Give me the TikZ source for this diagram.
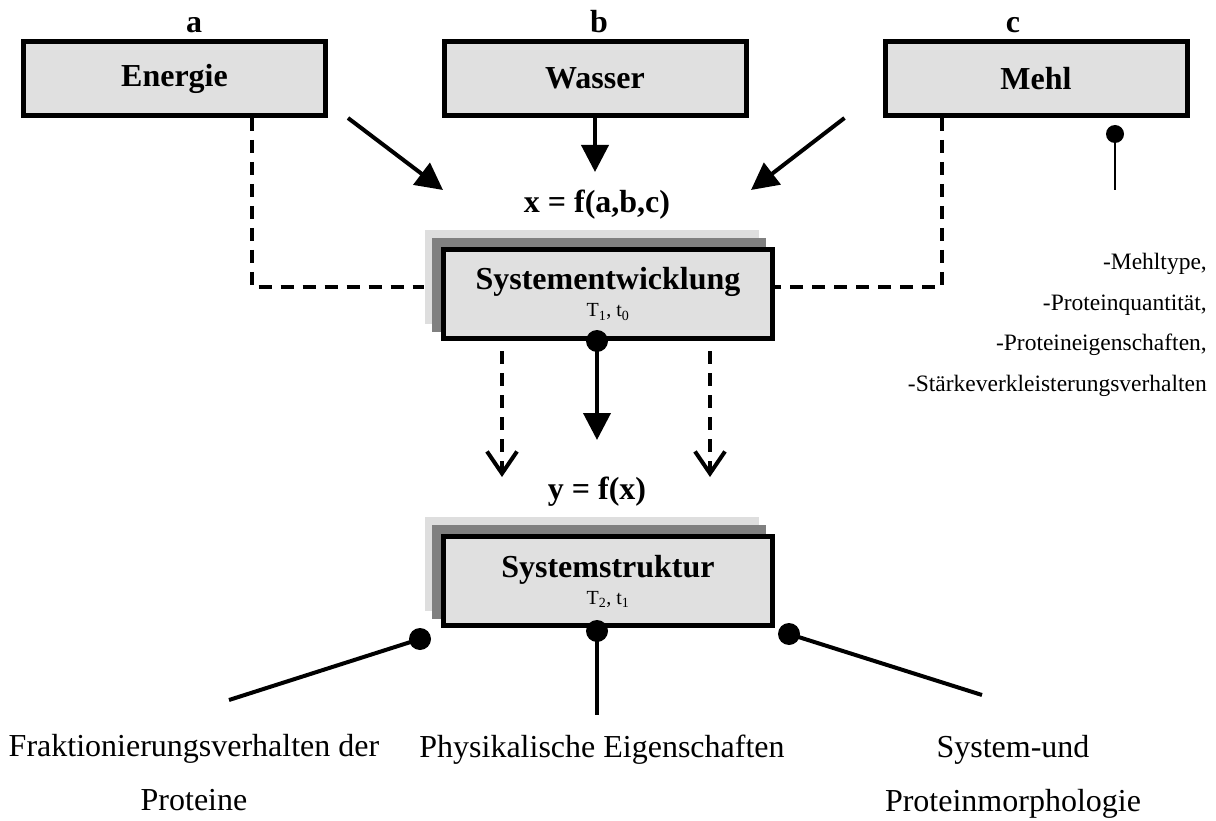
\documentclass[tikz,border=0pt]{standalone}
\usepackage{fontspec}
\setmainfont{Liberation Serif}
\usetikzlibrary{arrows.meta,shadows}

\begin{document}
\begin{tikzpicture}[
  x=1pt, y=-1pt,
  box/.style={draw, line width=5pt, fill=black!12, inner sep=0pt, minimum width=302pt, minimum height=74pt, font=\fontsize{32}{36}\selectfont\bfseries},
  sysbox/.style={box, minimum width=329pt, minimum height=89pt, align=center,
    general shadow={fill=black!13, draw=black!13, shadow xshift=-16pt, shadow yshift=17pt},
    general shadow={fill=black!50, draw=black!50, shadow xshift=-9pt, shadow yshift=9pt}},
  lbl/.style={inner sep=0pt, font=\fontsize{32}{36}\selectfont\bfseries},
  txt/.style={inner sep=0pt, align=center, font=\fontsize{32}{54}\selectfont},
  dot/.style={circle, fill, inner sep=0pt, minimum size=22pt},
  arr/.style={-{Triangle[length=27pt,width=27pt]}, line width=4pt},
  dashln/.style={line width=4pt, dash pattern=on 13pt off 9pt},
  dasharr/.style={dashln, -{Straight Barb[length=22pt,width=30pt]}},
  stem/.style={line width=4pt}
]
\useasboundingbox (0,0) rectangle (1216,821);

% inputs
\node[box] (energie) at (174.5,78.5) {Energie};
\node[box] (wasser) at (595,78.5) {Wasser};
\node[box] (mehl) at (1036,78.5) {Mehl};
\node[lbl, anchor=base] (la) at (194,33) {a};
\node[lbl, anchor=base] (lb) at (599,33) {b};
\node[lbl, anchor=base] (lc) at (1013,33) {c};

% system boxes
\node[lbl] (xf) at (597,205) {x = f(a,b,c)};
\node[sysbox] (entw) at (608,294) {Systementwicklung\\[-9pt]{\fontsize{20}{22}\selectfont\mdseries T\textsubscript{1}, t\textsubscript{0}}};
\node[lbl] (yf) at (597,492) {y = f(x)};
\node[sysbox] (struk) at (608,581) {Systemstruktur\\[-9pt]{\fontsize{20}{22}\selectfont\mdseries T\textsubscript{2}, t\textsubscript{1}}};

% flour properties
\node[dot, minimum size=18pt] (dotM) at (1115,134) {};
\node[inner sep=0pt, align=right, anchor=east, font=\fontsize{23.5}{40.5}\selectfont] (props) at (1207,325)
  {-Mehltype,\\-Proteinquantität,\\-Proteineigenschaften,\\-Stärkeverkleisterungsverhalten};

% results
\node[dot] (dotE) at (597,341) {};
\node[dot] (dotL) at (420,639) {};
\node[dot] (dotC) at (597,631) {};
\node[dot] (dotR) at (789,634) {};
\node[txt] (frak) at (194,773) {Fraktionierungsverhalten der\\Proteine};
\node[txt] (phys) at (602,750) {Physikalische Eigenschaften};
\node[txt] (morph) at (1013,777) {System-und\\Proteinmorphologie};

\coordinate (tipA) at (443,190);
\coordinate (tipC) at (751,190);
\coordinate (tipY) at (597,440);
\coordinate (endL) at (229,700);
\coordinate (endC) at (597,715);
\coordinate (endR) at (982,695);

\draw[arr] ([xshift=20pt]energie.south east) -- (tipA);
\draw[arr] (wasser.south) -- ++(0,54);
\draw[arr] ([xshift=-38pt]mehl.south west) -- (tipC);
\draw[dashln] ([xshift=77pt]energie.south) |- ([xshift=-17pt,yshift=7pt]entw.west);
\draw[dashln] ([xshift=-94pt]mehl.south) |- ([yshift=7pt]entw.east);
\draw[line width=2pt] (dotM.center) -- ++(0,56);

\draw[arr] (dotE.center) -- (tipY);
\draw[dasharr] ([xshift=-106pt,yshift=-10pt]entw.south) -- ++(0,126);
\draw[dasharr] ([xshift=102pt,yshift=-10pt]entw.south) -- ++(0,126);

\draw[stem] (dotL.center) -- (endL);
\draw[stem] (dotC.center) -- (endC);
\draw[stem] (dotR.center) -- (endR);
\end{tikzpicture}
\end{document}
